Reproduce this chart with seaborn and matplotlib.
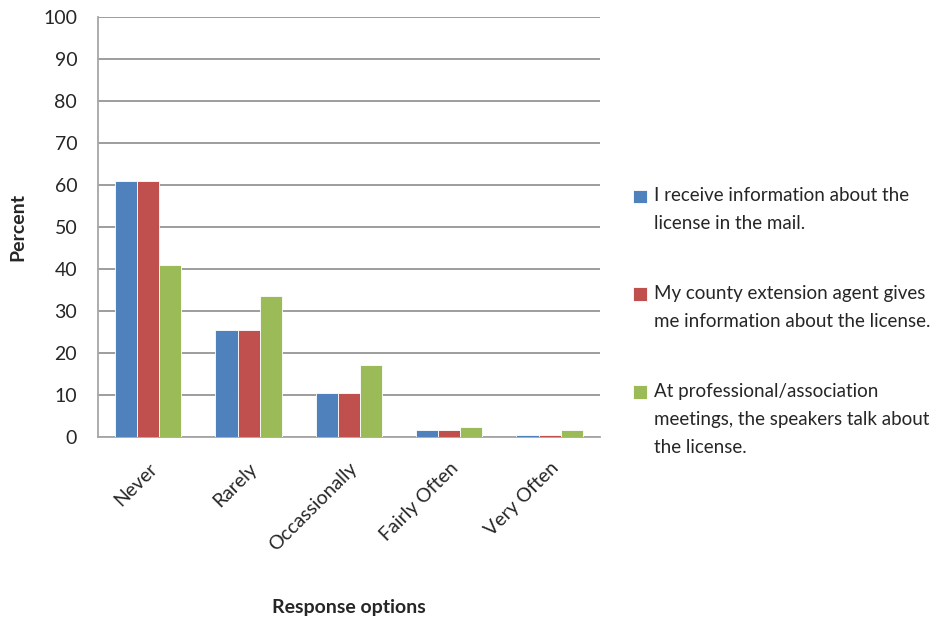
import matplotlib

matplotlib.use('Agg')
import matplotlib.pyplot as plt
import pandas as pd
import seaborn as sns
from matplotlib.ticker import FixedLocator

# values
categories = ['Never', 'Rarely', 'Occassionally', 'Fairly Often', 'Very Often']
mail = [60.9, 25.4, 10.6, 1.7, 0.6]
agent = [60.9, 25.4, 10.6, 1.7, 0.6]
meetings = [40.9, 33.6, 17.2, 2.5, 1.7]
series_names = [
    'I receive information about the\nlicense in the mail.',
    'My county extension agent gives\nme information about the license.',
    'At professional/association\nmeetings, the speakers talk about\nthe license.',
]
colors = ['#4F81BD', '#C0504D', '#9BBB59']


def main():
    rows = []
    for name, vals in zip(series_names, [mail, agent, meetings]):
        for cat, v in zip(categories, vals):
            rows.append({'Response options': cat, 'Percent': v, 'Source': name})
    df = pd.DataFrame(rows)

    sns.set_style('white')
    plt.rcParams['font.family'] = ['Lato', 'DejaVu Sans']

    fig = plt.figure(figsize=(9.43, 6.22), dpi=100)
    ax = fig.add_axes([0.104, 0.297, 0.532, 0.676])

    sns.barplot(data=df, x='Response options', y='Percent', hue='Source',
                palette=colors, saturation=1, width=0.66, gap=0,
                edgecolor='white', linewidth=0.6, ax=ax, zorder=3)

    ax.set_ylim(0, 100)
    ax.set_xlim(-0.5, 4.5)
    ax.set_yticks(range(0, 101, 10))
    ax.yaxis.grid(True, color='#8c8c8c', linewidth=1.2, zorder=0)
    ax.set_axisbelow(True)

    for side in ['top', 'right']:
        ax.spines[side].set_visible(False)
    for side in ['left', 'bottom']:
        ax.spines[side].set_color('#a6a6a6')
        ax.spines[side].set_linewidth(1.3)

    ax.tick_params(axis='y', length=7, width=1.2, color='#8c8c8c',
                   labelsize=14, labelcolor='#262626', pad=8, direction='out')
    ax.xaxis.set_minor_locator(FixedLocator([i - 0.5 for i in range(6)]))
    ax.tick_params(axis='x', which='minor', length=8, width=1.2, color='#8c8c8c')
    ax.tick_params(axis='x', which='major', length=0, labelsize=14,
                   labelcolor='#262626', pad=16)
    plt.setp(ax.get_xticklabels(), rotation=45, ha='right',
             rotation_mode='anchor')

    ax.set_xlabel('Response options', fontsize=14, fontweight='bold')
    ax.set_ylabel('Percent', fontsize=14, fontweight='bold', labelpad=12)
    ax.xaxis.set_label_coords(0.5, -0.385)

    fs = 13.5
    ls = 1.8
    handles, labels = ax.get_legend_handles_labels()
    leg = ax.legend(handles, labels, loc='center left',
                    bbox_to_anchor=(0.653, 0.483), bbox_transform=fig.transFigure,
                    frameon=False, fontsize=fs, handlelength=0.75,
                    handleheight=0.75, handletextpad=0.4, labelspacing=2.8)
    # put each square next to the first line of its label
    line_gap = 0.82 * fs * ls
    for txt, patch, lab in zip(leg.get_texts(), leg.get_patches(), labels):
        txt.set_linespacing(ls)
        n = lab.count('\n') + 1
        patch.set_y(patch.get_y() + (n - 1) / 2 * line_gap)

    fig.savefig('out.png', dpi=100)
    plt.close(fig)


if __name__ == '__main__':
    main()
